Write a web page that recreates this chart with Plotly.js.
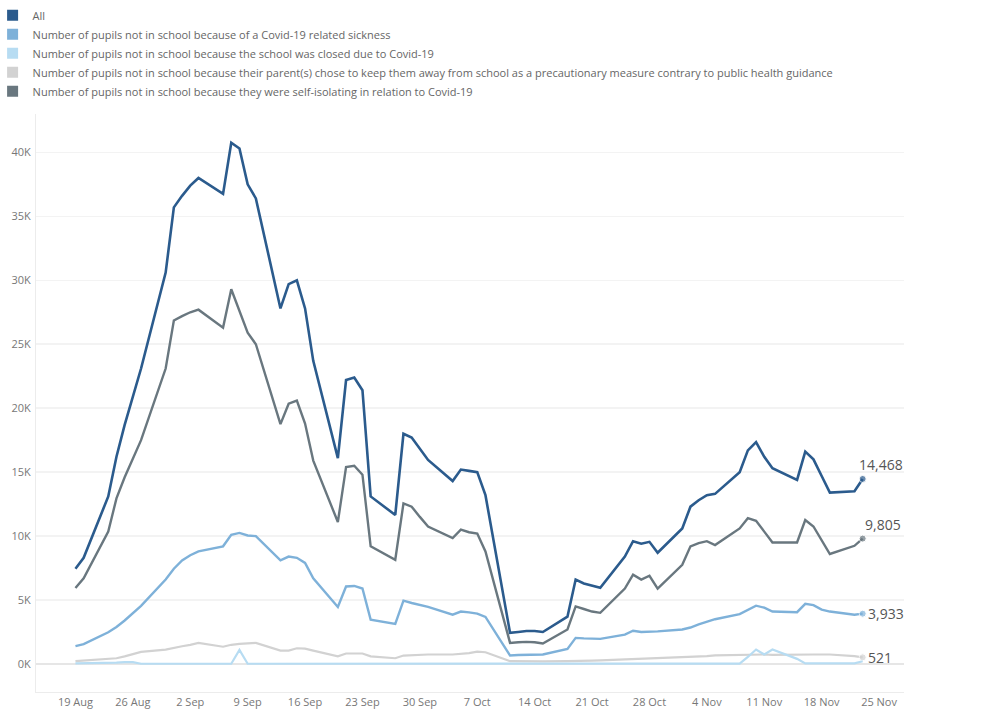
<!DOCTYPE html>
<html>
<head>
<meta charset="utf-8">
<script src="https://cdn.plot.ly/plotly-3.0.1.min.js"></script>
<style>
html,body{margin:0;padding:0;background:#fff;}
#chart{width:983px;height:710px;}
</style>
</head>
<body>
<div id="chart"></div>
<script>
// Dates as placed on the chart's date axis
const dates = ["2020-08-19","2020-08-20","2020-08-23","2020-08-24","2020-08-25","2020-08-26","2020-08-27","2020-08-30","2020-08-31","2020-09-01","2020-09-02","2020-09-03","2020-09-06","2020-09-07","2020-09-08","2020-09-09","2020-09-10","2020-09-13","2020-09-14","2020-09-15","2020-09-16","2020-09-17","2020-09-20","2020-09-21","2020-09-22","2020-09-23","2020-09-24","2020-09-27","2020-09-28","2020-09-29","2020-09-30","2020-10-01","2020-10-04","2020-10-05","2020-10-06","2020-10-07","2020-10-08","2020-10-11","2020-10-12","2020-10-13","2020-10-14","2020-10-15","2020-10-18","2020-10-19","2020-10-20","2020-10-21","2020-10-22","2020-10-25","2020-10-26","2020-10-27","2020-10-28","2020-10-29","2020-11-01","2020-11-02","2020-11-03","2020-11-04","2020-11-05","2020-11-08","2020-11-09","2020-11-10","2020-11-11","2020-11-12","2020-11-15","2020-11-16","2020-11-17","2020-11-18","2020-11-19","2020-11-22","2020-11-23"];

const allPupils = [7450,8300,13100,16200,18700,21000,23100,30600,35700,36600,37400,38000,36750,40750,40300,37500,36400,27800,29700,30000,27800,23700,16100,22200,22400,21400,13100,11650,18000,17700,16800,15950,14300,15200,15100,15000,13200,2430,2500,2580,2580,2500,3700,6600,6300,6100,5960,8400,9600,9400,9550,8700,10600,12300,12800,13200,13300,15000,16700,17350,16200,15300,14400,16600,16000,14700,13400,13500,14468];

const sickness = [1390,1550,2480,2900,3400,3950,4550,6600,7450,8100,8500,8800,9200,10100,10250,10050,10000,8100,8400,8300,7900,6700,4460,6060,6100,5900,3470,3130,4950,4770,4600,4460,3860,4100,4040,3940,3680,660,700,720,740,740,1180,2040,2000,1980,1960,2300,2600,2500,2500,2550,2700,2850,3100,3300,3500,3900,4250,4560,4400,4100,4050,4700,4600,4250,4100,3850,3933];

const schoolClosed = [50,50,80,100,150,150,20,20,20,20,20,20,20,20,1100,20,20,20,20,20,20,20,20,20,20,20,20,20,20,20,20,20,20,20,20,20,20,10,10,10,10,10,10,10,10,10,10,10,10,10,10,10,20,20,20,20,20,30,550,1130,740,1130,400,50,50,50,50,50,210];

const parentsChose = [220,270,380,450,600,800,950,1130,1290,1390,1500,1650,1350,1500,1570,1600,1650,1050,1050,1230,1200,1050,600,820,820,820,600,450,660,700,720,740,740,800,850,970,920,220,200,200,200,200,220,220,240,260,280,350,400,420,440,460,520,550,580,620,680,720,740,740,740,720,700,740,740,740,740,620,521];

const selfIsolating = [5940,6700,10350,12950,14600,16100,17500,23100,26850,27200,27500,27700,26300,29300,27600,25900,25000,18750,20350,20600,18800,15900,11100,15400,15500,14800,9200,8150,12550,12300,11500,10750,9850,10500,10300,10200,8800,1650,1700,1730,1700,1600,2700,4500,4300,4100,4000,5900,6980,6600,6900,5900,7750,9200,9450,9600,9300,10600,11400,11200,10350,9500,9500,11260,10750,9700,8600,9240,9805];

const seriesNames = [
  "All",
  "Number of pupils not in school because of a Covid-19 related sickness",
  "Number of pupils not in school because the school was closed due to Covid-19",
  "Number of pupils not in school because their parent(s) chose to keep them away from school as a precautionary measure contrary to public health guidance",
  "Number of pupils not in school because they were self-isolating in relation to Covid-19"
];
const seriesColors = ["#2b5b8d", "#7eb1d9", "#b7dcf2", "#d2d2d2", "#69777f"];
const yTickVals = [0,5000,10000,15000,20000,25000,30000,35000,40000];
const yTickText = ["0K","5K","10K","15K","20K","25K","30K","35K","40K"];

const seriesValues = [allPupils, sickness, schoolClosed, parentsChose, selfIsolating];
const lineWidths = [2.6, 2.4, 2.2, 2.2, 2.4];
const drawOrder = [3, 2, 1, 4, 0];
const labelled = [0, 1, 3, 4];

const traces = [];
// legend entries (square swatches)
for (let i = 0; i < seriesNames.length; i++) {
  traces.push({
    x: [null], y: [null], type: 'scatter', mode: 'markers',
    name: seriesNames[i], showlegend: true, hoverinfo: 'skip',
    marker: {symbol: 'square', size: 11, color: seriesColors[i]}
  });
}
// lines
drawOrder.forEach(function (i) {
  const vals = seriesValues[i];
  const sizes = vals.map(function (v, k) { return (k === vals.length - 1 && labelled.indexOf(i) >= 0) ? 7 : 0; });
  traces.push({
    x: dates, y: vals, type: 'scatter', mode: 'lines+markers',
    name: seriesNames[i], showlegend: false,
    line: {color: seriesColors[i], width: lineWidths[i]},
    marker: {size: sizes, color: seriesColors[i]},
    hoverinfo: 'x+y'
  });
});

const last = dates.length - 1;
const labelPlacement = {
  0: {xanchor: 'left', yanchor: 'bottom', xshift: -6, yshift: 3},
  4: {xanchor: 'left', yanchor: 'bottom', xshift: 0, yshift: 3},
  1: {xanchor: 'left', yanchor: 'middle', xshift: 3, yshift: 0},
  3: {xanchor: 'left', yanchor: 'middle', xshift: 3, yshift: 0}
};
const annotations = labelled.map(function (i) {
  const v = seriesValues[i][last];
  const p = labelPlacement[i];
  return {
    x: dates[last], y: v, xref: 'x', yref: 'y',
    text: v.toLocaleString('en-US'), showarrow: false,
    xanchor: p.xanchor, yanchor: p.yanchor, xshift: p.xshift, yshift: p.yshift,
    font: {family: 'Open Sans, sans-serif', size: 14, color: '#555'}
  };
});

const layout = {
  width: 983, height: 710,
  margin: {l: 35.5, r: 79, t: 114, b: 18, autoexpand: false},
  paper_bgcolor: '#ffffff', plot_bgcolor: '#ffffff',
  font: {family: 'Open Sans, sans-serif', size: 10, color: '#666'},
  showlegend: true,
  legend: {
    xref: 'paper', yref: 'container',
    x: -0.05, y: 0.999, xanchor: 'left', yanchor: 'top',
    font: {family: 'Open Sans, sans-serif', size: 11, color: '#666'},
    itemsizing: 'trace', tracegroupgap: 0, bgcolor: 'rgba(0,0,0,0)', borderwidth: 0
  },
  xaxis: {
    type: 'date', range: ['2020-08-14 04:30', '2020-11-28 01:00'],
    tick0: '2020-08-19', dtick: 7 * 86400000, tickformat: '%-d %b',
    showgrid: false, zeroline: false, showline: true, linecolor: '#ececec', linewidth: 1,
    ticks: '', tickfont: {size: 11, color: '#777'}, automargin: false, fixedrange: true
  },
  yaxis: {
    range: [-2190, 43000], tickmode: 'array', tickvals: yTickVals, ticktext: yTickText,
    showgrid: true, gridcolor: '#f3f3f3', gridwidth: 1.5,
    zeroline: true, zerolinecolor: '#e6e6e6', zerolinewidth: 1.5,
    showline: true, linecolor: '#ececec', linewidth: 1,
    ticks: '', ticklabelstandoff: 2, tickfont: {size: 11, color: '#777'}, automargin: false, fixedrange: true
  },
  annotations: annotations
};

Plotly.newPlot('chart', traces, layout, {displayModeBar: false, staticPlot: true});
</script>
</body>
</html>
